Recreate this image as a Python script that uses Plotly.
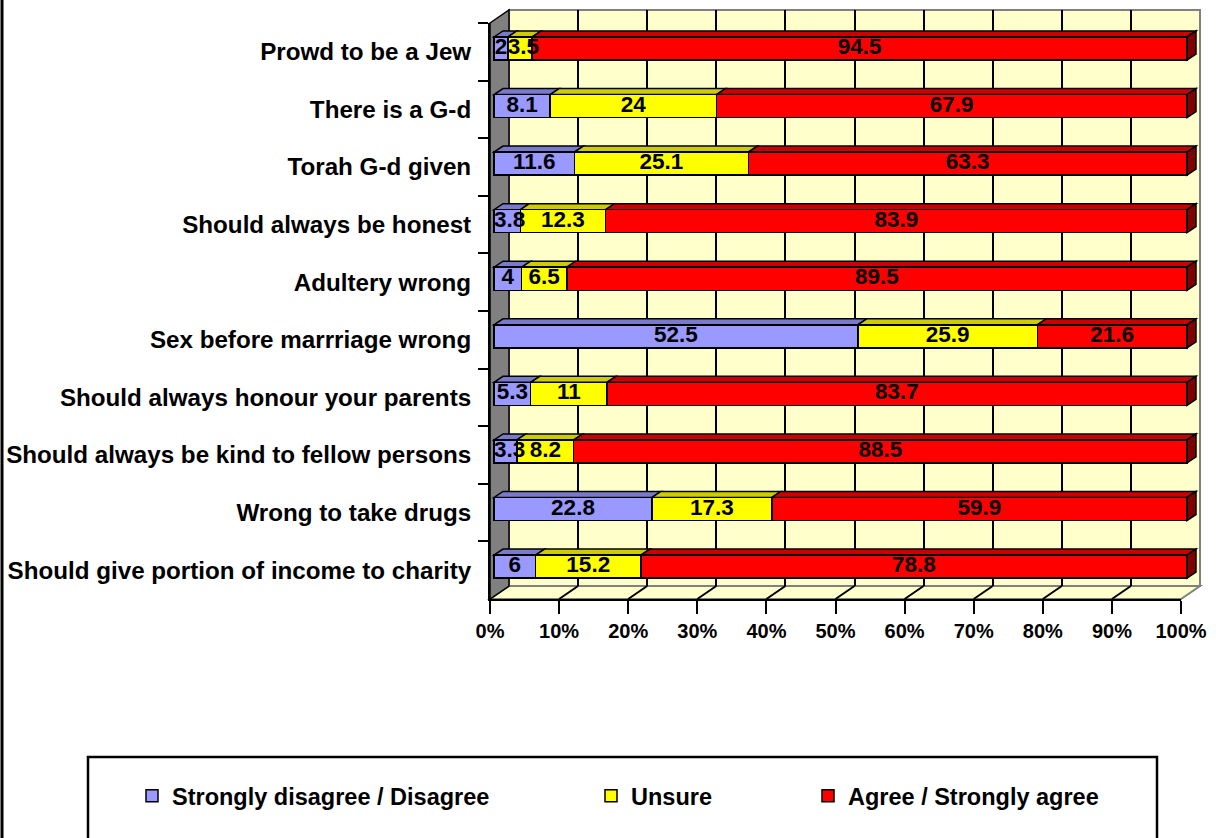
import plotly.graph_objects as go

# ---- data -------------------------------------------------------------
categories = [
    "Prowd to be a Jew",
    "There is a G-d",
    "Torah G-d given",
    "Should always be honest",
    "Adultery wrong",
    "Sex before marrriage wrong",
    "Should always honour your parents",
    "Should always be kind to fellow persons",
    "Wrong to take drugs",
    "Should give portion of income to charity",
]
disagree = [2, 8.1, 11.6, 3.8, 4, 52.5, 5.3, 3.3, 22.8, 6]
unsure = [3.5, 24, 25.1, 12.3, 6.5, 25.9, 11, 8.2, 17.3, 15.2]
agree = [94.5, 67.9, 63.3, 83.9, 89.5, 21.6, 83.7, 88.5, 59.9, 78.8]
series_names = ["Strongly disagree / Disagree", "Unsure", "Agree / Strongly agree"]
pct_ticks = list(range(0, 101, 10))
pct_labels = [f"{t}%" for t in pct_ticks]

# ---- styling ----------------------------------------------------------
W, H = 1216, 838
FONT = "Liberation Sans, Arial, sans-serif"
front_colors = ["#9999FF", "#FFFF00", "#FF0000"]
top_colors = ["#7A7ACC", "#CCCC00", "#CC0000"]
end_color = "#800000"
wall_color = "#FFFFCC"
side_wall_color = "#808080"
LABEL_SIZE = 22.5

# pixel geometry of the 3-D box
FX0, FX1, FY0, FY1 = 490, 1181, 23, 599      # front plane
BX0, BX1, BY0, BY1 = 509, 1200, 10, 586      # back wall
BAR0, BAR100 = 494, 1187                     # bar plane, 0% and 100%
ROW0, ROW_STEP = 48.5, 57.56                 # first bar centre, row pitch
DEPTH_DX, DEPTH_DY = 9, 6                    # visible bar depth
BAR_W = 0.4


def px(x):
    return x / W


def py(y):
    return 1 - y / H


def text_px(s, size):
    # approximate width of a bold numeric label
    return sum(0.278 * size if ch == "." else 0.556 * size for ch in s)


n = len(categories)
rows = list(range(n))
series = [disagree, unsure, agree]

bar_scale = (BAR100 - BAR0) / 100.0
bar_range = [-1, 103]
bar_dom_x = [px(BAR0 + bar_range[0] * bar_scale), px(BAR0 + bar_range[1] * bar_scale)]
bar_dom_y = [py(ROW0 + ROW_STEP * (n - 0.5)), py(ROW0 - ROW_STEP * 0.5)]
ddx = DEPTH_DX / bar_scale
ddy = DEPTH_DY / ROW_STEP

fig = go.Figure()

# back wall subplot (gridlines only)
fig.add_trace(go.Scatter(x=[0], y=[0], mode="markers", marker=dict(opacity=0),
                         showlegend=False, hoverinfo="skip", xaxis="x", yaxis="y"))
# front plane subplot (axis labels and ticks)
fig.add_trace(go.Scatter(x=[0] * n, y=categories, mode="markers", marker=dict(opacity=0),
                         showlegend=False, hoverinfo="skip", xaxis="x2", yaxis="y2"))

# stacked bars
legends = ["legend", "legend2", "legend3"]
for vals, name, col, lg in zip(series, series_names, front_colors, legends):
    fig.add_trace(go.Bar(
        x=vals, y=rows, orientation="h", name=name, width=BAR_W,
        marker=dict(color=col, line=dict(color="black", width=1.5)),
        xaxis="x3", yaxis="y3", legend=lg, hoverinfo="x+name",
    ))

# value labels: centred on the segment, or starting at its left edge when too narrow
lab_x, lab_y, lab_t, lab_pos = [], [], [], []
for i in rows:
    left = 0
    for vals in series:
        v = vals[i]
        txt = f"{v:g}"
        if text_px(txt, LABEL_SIZE) > v * bar_scale:
            lab_x.append(left)
            lab_pos.append("middle right")
        else:
            lab_x.append(left + v / 2)
            lab_pos.append("middle center")
        lab_y.append(i)
        lab_t.append(txt)
        left += v
fig.add_trace(go.Scatter(
    x=lab_x, y=lab_y, text=lab_t, mode="text", textposition=lab_pos,
    showlegend=False, hoverinfo="skip",
    textfont=dict(family=FONT, size=LABEL_SIZE, color="black", weight="bold"),
    xaxis="x3", yaxis="y3", cliponaxis=False,
))

shapes = []
# outer chart border on the left
shapes.append(dict(type="line", xref="paper", yref="paper", x0=px(2), x1=px(2), y0=0, y1=1,
                   line=dict(color="black", width=3), layer="below"))
# back wall
shapes.append(dict(type="rect", xref="paper", yref="paper", x0=px(BX0), x1=px(BX1),
                   y0=py(BY1), y1=py(BY0), fillcolor=wall_color,
                   line=dict(color="#808080", width=2), layer="below"))
# floor
shapes.append(dict(type="path", xref="paper", yref="paper",
                   path=f"M{px(FX0)},{py(FY1)} L{px(BX0)},{py(BY1)} L{px(BX1)},{py(BY1)} L{px(FX1)},{py(FY1)} Z",
                   fillcolor=wall_color, line=dict(color="#808080", width=2), layer="below"))
# floor depth lines at each tick
fscale = (FX1 - FX0) / 100.0
bscale = (BX1 - BX0) / 100.0
for t in pct_ticks[1:-1]:
    shapes.append(dict(type="line", xref="paper", yref="paper",
                       x0=px(FX0 + t * fscale), y0=py(FY1), x1=px(BX0 + t * bscale), y1=py(BY1),
                       line=dict(color="black", width=2), layer="below"))
# side wall
shapes.append(dict(type="path", xref="paper", yref="paper",
                   path=f"M{px(FX0)},{py(FY0)} L{px(BX0)},{py(BY0)} L{px(BX0)},{py(BY1)} L{px(FX0)},{py(FY1)} Z",
                   fillcolor=side_wall_color, line=dict(color="black", width=1.5), layer="below"))

# 3-D faces of the bars
for i in rows:
    left = 0
    yt = i - BAR_W / 2
    yb = i + BAR_W / 2
    for vals, tc in zip(series, top_colors):
        right = left + vals[i]
        shapes.append(dict(type="path", xref="x3", yref="y3",
                           path=f"M{left},{yt} L{right},{yt} L{right + ddx},{yt - ddy} L{left + ddx},{yt - ddy} Z",
                           fillcolor=tc, line=dict(color="black", width=1.5), layer="below"))
        left = right
    shapes.append(dict(type="path", xref="x3", yref="y3",
                       path=f"M{left},{yt} L{left + ddx},{yt - ddy} L{left + ddx},{yb - ddy} L{left},{yb} Z",
                       fillcolor=end_color, line=dict(color="black", width=1.5), layer="below"))

# legend frame
shapes.append(dict(type="rect", xref="paper", yref="paper", x0=px(88), x1=px(1157),
                   y0=py(860), y1=py(757), line=dict(color="black", width=2.5),
                   fillcolor="white", layer="below"))

legend_font = dict(family=FONT, size=23.5, color="black", weight="bold")
legend_common = dict(orientation="h", xanchor="left", yanchor="middle", y=py(796),
                     bgcolor="rgba(0,0,0,0)", borderwidth=0, font=legend_font)

fig.update_layout(
    width=W, height=H, autosize=False,
    margin=dict(l=0, r=0, t=0, b=0, pad=0, autoexpand=False),
    paper_bgcolor="white", plot_bgcolor="rgba(0,0,0,0)",
    barmode="stack",
    font=dict(family=FONT, color="black"),
    shapes=shapes,
    showlegend=True,
    legend=dict(x=px(132), **legend_common),
    legend2=dict(x=px(591), **legend_common),
    legend3=dict(x=px(808), **legend_common),
    # back wall gridlines
    xaxis=dict(domain=[px(BX0), px(BX1)], range=[0, 100], tickvals=pct_ticks[1:-1],
               showgrid=True, gridcolor="black", gridwidth=2, showticklabels=False,
               ticks="", zeroline=False, showline=False, anchor="y", fixedrange=True),
    yaxis=dict(domain=[py(BY1), py(BY0)], range=[0, 1], visible=False, anchor="x",
               fixedrange=True),
    # front plane axes
    xaxis2=dict(domain=[px(FX0), px(FX1)], range=[0, 100], tickvals=pct_ticks,
                ticktext=pct_labels, ticks="outside", ticklen=13, tickwidth=2,
                tickcolor="black", showline=True, linecolor="black", linewidth=2,
                showgrid=False, zeroline=False, anchor="y2", automargin=False,
                tickfont=dict(family=FONT, size=20, color="black", weight="bold"),
                fixedrange=True),
    yaxis2=dict(domain=[py(FY1), py(FY0)], type="category", categoryorder="array",
                categoryarray=categories, range=[n - 0.5, -0.5], tickson="boundaries",
                ticks="outside", ticklen=10, tickwidth=2, tickcolor="black",
                showline=True, linecolor="black", linewidth=2, showgrid=False,
                anchor="x2", ticklabelstandoff=12, automargin=False,
                tickfont=dict(family=FONT, size=24.2, color="black", weight="bold"),
                fixedrange=True),
    # bar plane
    xaxis3=dict(domain=bar_dom_x, range=bar_range, visible=False, anchor="y3",
                fixedrange=True),
    yaxis3=dict(domain=bar_dom_y, range=[n - 0.5, -0.5], visible=False, anchor="x3",
                fixedrange=True),
)

fig.write_html("out.html")
